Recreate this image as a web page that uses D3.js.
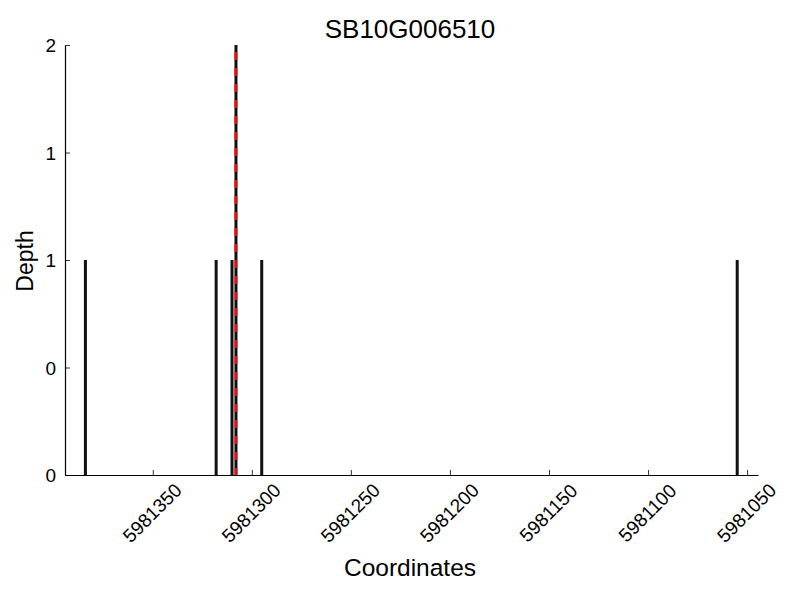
<!DOCTYPE html>
<html><head><meta charset="utf-8">
<script src="https://cdn.jsdelivr.net/npm/d3@7"></script>
<style>body{margin:0;background:#fff}svg{display:block}text{font-family:"Liberation Sans",Arial,sans-serif;fill:#000}</style>
</head><body>
<script>
const title = "SB10G006510";
const coords = [5981384, 5981318, 5981310, 5981308, 5981295, 5981055];
const depths = [1, 1, 1, 2, 1, 1];
const markerCoord = 5981308;
const xTicks = [5981350, 5981300, 5981250, 5981200, 5981150, 5981100, 5981050];
const yTicks = [0, 0.5, 1, 1.5, 2];
const yTickLabels = ["0", "0", "1", "1", "2"];

const W = 800, H = 600;
const svg = d3.select("body").append("svg").attr("width", W).attr("height", H);
const x = d3.scaleLinear().domain([5981394.3, 5981044.5]).range([65, 758]);
const y = d3.scaleLinear().domain([0, 2]).range([475, 45]);

// bars
svg.append("g").selectAll("rect").data(coords).join("rect")
  .attr("x", d => x(d) - 1.5)
  .attr("width", 3)
  .attr("y", (d, i) => y(depths[i]))
  .attr("height", (d, i) => y(0) - y(depths[i]))
  .attr("fill", "#111");

// marker
svg.append("line")
  .attr("x1", x(markerCoord)).attr("x2", x(markerCoord))
  .attr("y1", y(2)).attr("y2", y(0))
  .attr("stroke", "#ff0000").attr("stroke-width", 2.5)
  .attr("stroke-dasharray", "8,8").attr("stroke-dashoffset", -7);

// axes
const xAxis = d3.axisBottom(x).tickValues(xTicks).tickSizeInner(-5).tickSizeOuter(0).tickFormat(d3.format("d"));
const gx = svg.append("g").attr("transform", `translate(0,${y(0)})`).call(xAxis);
gx.select(".domain").attr("stroke", "#000").attr("stroke-width", 1.2);
gx.selectAll(".tick line").attr("stroke", "#000").attr("stroke-width", 0.8);
gx.selectAll(".tick text")
  .attr("font-size", 19).attr("text-anchor", "middle")
  .attr("dy", null).attr("y", null)
  .attr("transform", "translate(-1,38) rotate(-45)")
  .attr("dominant-baseline", "central");

const yAxis = d3.axisLeft(y).tickValues(yTicks).tickSizeInner(-5).tickSizeOuter(0)
  .tickFormat((d, i) => yTickLabels[i]);
const gy = svg.append("g").attr("transform", `translate(${x.range()[0]},0)`).call(yAxis);
gy.select(".domain").attr("stroke", "#000").attr("stroke-width", 1.2);
gy.selectAll(".tick line").attr("stroke", "#000").attr("stroke-width", 0.8);
gy.selectAll(".tick text").attr("font-size", 19).attr("x", -9).attr("dy", "0.35em");

// labels
svg.append("text").attr("x", 410).attr("y", 38).attr("text-anchor", "middle").attr("font-size", 26).text(title);
svg.append("text").attr("x", 410).attr("y", 576).attr("text-anchor", "middle").attr("font-size", 24.5).text("Coordinates");
svg.append("text").attr("transform", "translate(33,261) rotate(-90)").attr("text-anchor", "middle").attr("font-size", 23).text("Depth");
</script>
</body></html>
